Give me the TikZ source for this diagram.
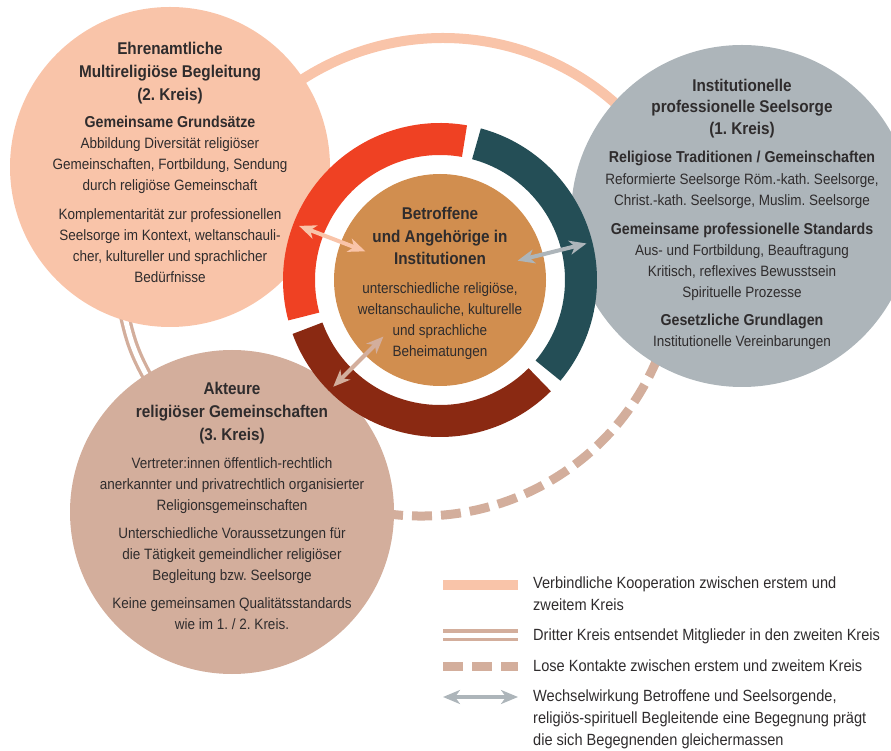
\documentclass[tikz,border=0pt]{standalone}
\usepackage{fontspec}
\setmainfont{Liberation Sans}[FakeStretch=0.9]
\usepackage{tikz}
\usetikzlibrary{arrows.meta,positioning}

\definecolor{pfirsich}{HTML}{F9C4A9}
\definecolor{grausee}{HTML}{ADB5BA}
\definecolor{rosa}{HTML}{D3AE9C}
\definecolor{ocker}{HTML}{D18E4F}
\definecolor{rot}{HTML}{EF4123}
\definecolor{dunkelrot}{HTML}{8A2912}
\definecolor{petrol}{HTML}{244E56}
\definecolor{schrift}{HTML}{2F2C2D}

\newcommand{\kopf}[1]{{\bfseries\fontsize{17}{21}\selectfont #1}}
\newcommand{\zwkopf}[1]{{\bfseries\fontsize{15.8}{21}\selectfont #1}}

\pgfdeclarelayer{hinten}
\pgfsetlayers{hinten,main}
\frenchspacing

\begin{document}
\begin{tikzpicture}[x=1pt,y=1pt,
    kreis/.style={circle,inner sep=0pt,minimum size=#1},
    ring/.style={line width=32pt},
    inhalt/.style={align=center,text=schrift,inner sep=0pt,font=\fontsize{15}{21}\selectfont},
    legende/.style={align=left,text=schrift,inner sep=0pt,anchor=west,font=\fontsize{16.2}{22}\selectfont},
    verbindlich/.style={draw=pfirsich,line width=10pt},
    entsendet/.style={draw=rosa,double=white,double distance=5pt,line width=3.3pt},
    lose/.style={draw=rosa,line width=9pt,dash pattern=on 20pt off 9pt},
    wechsel/.style={line width=4pt,{Stealth[length=17pt,width=14pt,inset=5pt]}-{Stealth[length=17pt,width=14pt,inset=5pt]}}]

  \useasboundingbox (0,0) rectangle (891,750);

  \node[kreis=320pt,fill=pfirsich] (k2) at (170,583) {};
  \node[kreis=342pt,fill=grausee]  (k1) at (742,534) {};
  \node[kreis=324pt,fill=rosa]     (k3) at (232,238) {};

  \coordinate (m) at (440,470);
  \draw[ring,rot]       ([shift={(80:141)}]m)  arc[start angle=80,end angle=195,radius=141];
  \draw[ring,dunkelrot] ([shift={(200:141)}]m) arc[start angle=200,end angle=315,radius=141];
  \draw[ring,petrol]    ([shift={(-40:141)}]m) arc[start angle=-40,end angle=75,radius=141];
  \node[kreis=212pt,fill=ocker] (mitte) at (m) {};

  \node[inhalt] (t2) at ([yshift=5pt]k2.center) {%
    \kopf{Ehrenamtliche}\\[2pt]
    \kopf{Multireligiöse Begleitung}\\[2pt]
    \kopf{(2. Kreis)}\\[6pt]
    \zwkopf{Gemeinsame Grundsätze}\\
    Abbildung Diversität religiöser\\
    Gemeinschaften, Fortbildung, Sendung\\
    durch religiöse Gemeinschaft\\[8pt]
    Komplementarität zur professionellen\\
    Seelsorge im Kontext, weltanschauli-\\
    cher, kultureller und sprachlicher\\
    Bedürfnisse};

  \node[inhalt] (t1) at ([yshift=2pt]k1.center) {%
    \kopf{Institutionelle}\\[0.5pt]
    \kopf{professionelle Seelsorge}\\[0.5pt]
    \kopf{(1. Kreis)}\\[7pt]
    \zwkopf{Religiose Traditionen / Gemeinschaften}\\[1pt]
    Reformierte Seelsorge Röm.-kath. Seelsorge,\\
    Christ.-kath. Seelsorge, Muslim. Seelsorge\\[8pt]
    \zwkopf{Gemeinsame professionelle Standards}\\
    Aus- und Fortbildung, Beauftragung\\
    Kritisch, reflexives Bewusstsein\\
    Spirituelle Prozesse\\[7pt]
    \zwkopf{Gesetzliche Grundlagen}\\
    Institutionelle Vereinbarungen};

  \node[inhalt] (t0) at ([yshift=-3.5pt]mitte.center) {%
    \kopf{Betroffene}\\[1.5pt]
    \kopf{und Angehörige in}\\[1.5pt]
    \kopf{Institutionen}\\[8pt]
    unterschiedliche religiöse,\\
    weltanschauliche, kulturelle\\
    und sprachliche\\
    Beheimatungen};

  \node[inhalt] (t3) at ([yshift=6.5pt]k3.center) {%
    \kopf{Akteure}\\[2pt]
    \kopf{religiöser Gemeinschaften}\\[2pt]
    \kopf{(3. Kreis)}\\[7pt]
    Vertreter:innen öffentlich-rechtlich\\
    anerkannter und privatrechtlich organisierter\\
    Religionsgemeinschaften\\[7pt]
    Unterschiedliche Voraussetzungen für\\
    die Tätigkeit gemeindlicher religiöser\\
    Begleitung bzw. Seelsorge\\[7pt]
    Keine gemeinsamen Qualitätsstandards\\
    wie im 1. / 2. Kreis.};

  \coordinate (mo) at ([shift={(3,-18)}]m);
  \coordinate (mu) at ([shift={(-19,20)}]m);
  \begin{pgfonlayer}{hinten}
    \draw[verbindlich] ([shift={(135:260)}]mo) arc[start angle=135,end angle=40,radius=260];
    \draw[lose] ([shift={(255:256)}]mu) arc[start angle=255,end angle=340,radius=256];
    \draw[entsendet,shorten <=-6pt,shorten >=-6pt] (k2.254) to[bend right=8] (k3.122);
  \end{pgfonlayer}

  \coordinate (a2) at ([shift={(159:151)}]m);
  \coordinate (b2) at ([shift={(159:80)}]m);
  \coordinate (a1) at ([shift={(14:151)}]m);
  \coordinate (b1) at ([shift={(14:80)}]m);
  \coordinate (a3) at ([shift={(225:151)}]m);
  \coordinate (b3) at ([shift={(225:80)}]m);
  \path[wechsel]
    (a2) edge[pfirsich] (b2)
    (b1) edge[grausee]  (a1)
    (b3) edge[rosa]     (a3);

  \node[legende] (l1) at (533,156) {Verbindliche Kooperation zwischen erstem und\\zweitem Kreis};
  \node[legende] (l2) at (533,114) {Dritter Kreis entsendet Mitglieder in den zweiten Kreis};
  \node[legende] (l3) at (533,84)  {Lose Kontakte zwischen erstem und zweitem Kreis};
  \node[legende] (l4) at (533,31)  {Wechselwirkung Betroffene und Seelsorgende,\\religiös-spirituell Begleitende eine Begegnung prägt\\die sich Begegnenden gleichermassen};

  \coordinate (v1) at (443,165); \coordinate (v2) at (518,165);
  \coordinate (e1) at (443,115); \coordinate (e2) at (518,115);
  \coordinate (d1) at (443,84);  \coordinate (d2) at (518,84);
  \coordinate (w1) at (443,53);  \coordinate (w2) at (518,53);
  \draw[verbindlich] (v1) -- (v2);
  \draw[entsendet]   (e1) -- (e2);
  \draw[lose]        (d1) -- (d2);
  \path[wechsel] (w1) edge[grausee] (w2);
\end{tikzpicture}
\end{document}
